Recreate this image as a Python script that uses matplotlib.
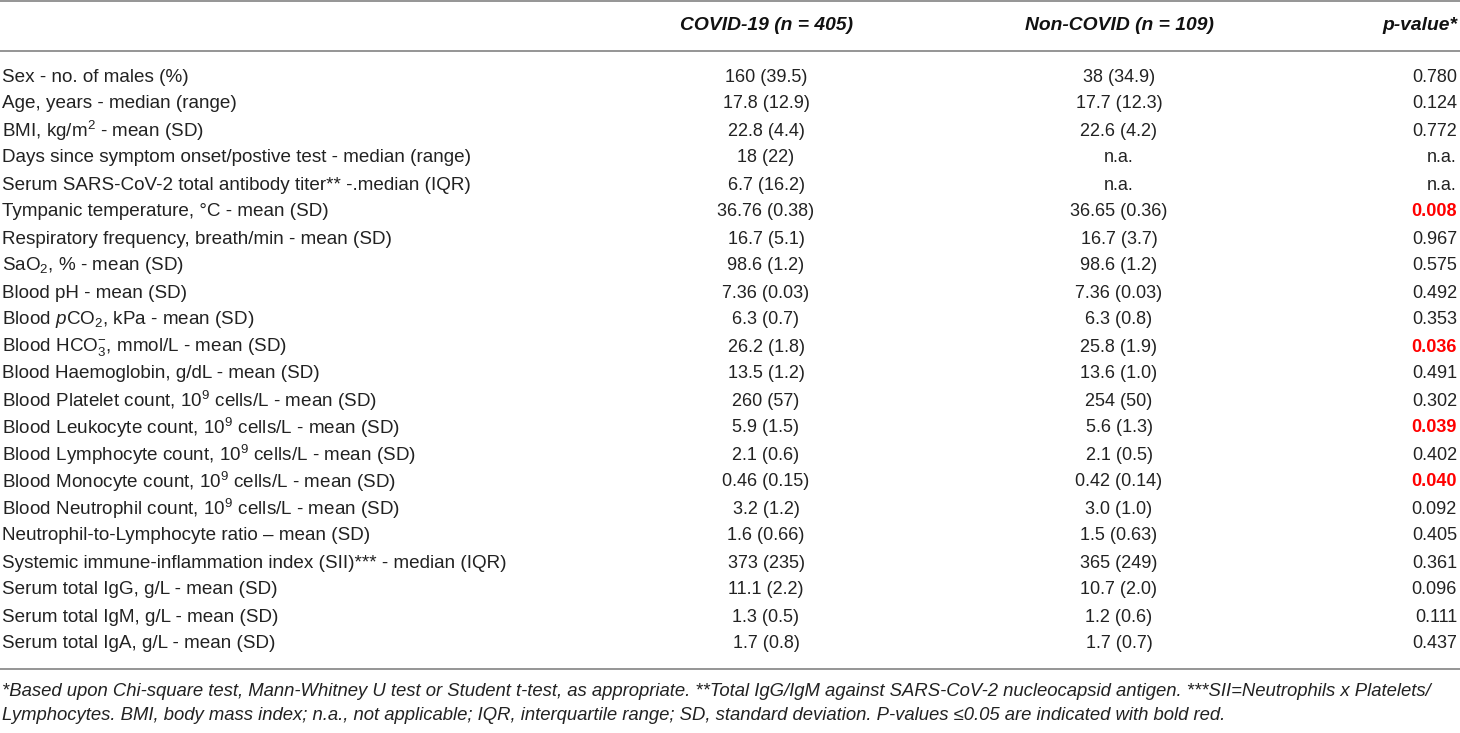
import matplotlib
matplotlib.use("Agg")
import matplotlib.pyplot as plt

plt.rcParams['font.family'] = ['Liberation Sans', 'DejaVu Sans']
plt.rcParams['mathtext.fontset'] = 'custom'
plt.rcParams['mathtext.rm'] = 'Liberation Sans'
plt.rcParams['mathtext.it'] = 'Liberation Sans:italic'
plt.rcParams['mathtext.bf'] = 'Liberation Sans:bold'

headers = ["COVID-19 (n = 405)", "Non-COVID (n = 109)", "p-value*"]

row_labels = [
    "Sex - no. of males (%)",
    "Age, years - median (range)",
    "BMI, kg/m$^{2}$ - mean (SD)",
    "Days since symptom onset/postive test - median (range)",
    "Serum SARS-CoV-2 total antibody titer** -.median (IQR)",
    "Tympanic temperature, °C - mean (SD)",
    "Respiratory frequency, breath/min - mean (SD)",
    "SaO$_{2}$, % - mean (SD)",
    "Blood pH - mean (SD)",
    "Blood $p$CO$_{2}$, kPa - mean (SD)",
    "Blood HCO$_{3}^{-}$, mmol/L - mean (SD)",
    "Blood Haemoglobin, g/dL - mean (SD)",
    "Blood Platelet count, 10$^{9}$ cells/L - mean (SD)",
    "Blood Leukocyte count, 10$^{9}$ cells/L - mean (SD)",
    "Blood Lymphocyte count, 10$^{9}$ cells/L - mean (SD)",
    "Blood Monocyte count, 10$^{9}$ cells/L - mean (SD)",
    "Blood Neutrophil count, 10$^{9}$ cells/L - mean (SD)",
    "Neutrophil-to-Lymphocyte ratio – mean (SD)",
    "Systemic immune-inflammation index (SII)*** - median (IQR)",
    "Serum total IgG, g/L - mean (SD)",
    "Serum total IgM, g/L - mean (SD)",
    "Serum total IgA, g/L - mean (SD)",
]

covid = ["160 (39.5)", "17.8 (12.9)", "22.8 (4.4)", "18 (22)", "6.7 (16.2)",
         "36.76 (0.38)", "16.7 (5.1)", "98.6 (1.2)", "7.36 (0.03)", "6.3 (0.7)",
         "26.2 (1.8)", "13.5 (1.2)", "260 (57)", "5.9 (1.5)", "2.1 (0.6)",
         "0.46 (0.15)", "3.2 (1.2)", "1.6 (0.66)", "373 (235)", "11.1 (2.2)",
         "1.3 (0.5)", "1.7 (0.8)"]

noncovid = ["38 (34.9)", "17.7 (12.3)", "22.6 (4.2)", "n.a.", "n.a.",
            "36.65 (0.36)", "16.7 (3.7)", "98.6 (1.2)", "7.36 (0.03)", "6.3 (0.8)",
            "25.8 (1.9)", "13.6 (1.0)", "254 (50)", "5.6 (1.3)", "2.1 (0.5)",
            "0.42 (0.14)", "3.0 (1.0)", "1.5 (0.63)", "365 (249)", "10.7 (2.0)",
            "1.2 (0.6)", "1.7 (0.7)"]

pvalues = ["0.780", "0.124", "0.772", "n.a.", "n.a.", "0.008", "0.967", "0.575",
           "0.492", "0.353", "0.036", "0.491", "0.302", "0.039", "0.402", "0.040",
           "0.092", "0.405", "0.361", "0.096", "0.111", "0.437"]

footnote = [
    "*Based upon Chi-square test, Mann-Whitney U test or Student t-test, as appropriate. **Total IgG/IgM against SARS-CoV-2 nucleocapsid antigen. ***SII=Neutrophils x Platelets/",
    "Lymphocytes. BMI, body mass index; n.a., not applicable; IQR, interquartile range; SD, standard deviation. P-values \u22640.05 are indicated with bold red.",
]

W, H = 1460, 733
fig = plt.figure(figsize=(W / 100, H / 100), dpi=100)
ax = fig.add_axes([0, 0, 1, 1])
ax.set_xlim(0, W)
ax.set_ylim(H, 0)
ax.axis('off')

fs_lab = 13.6
fs_num = 13.0
fs_head = 13.9
col_x = [766, 1119, 1457]
line_col = '#8c8c8c'
txt_col = '#222222'

# horizontal rules
for y in (1, 51, 669):
    ax.plot([0, W], [y, y], color=line_col, lw=1.3, solid_capstyle='butt')

# header
hkw = dict(va='center', fontsize=fs_head, fontweight='bold', fontstyle='italic', color='#111111')
ax.text(col_x[0], 26, headers[0], ha='center', **hkw)
ax.text(col_x[1], 26, headers[1], ha='center', **hkw)
ax.text(col_x[2], 26, headers[2], ha='right', **hkw)

y0, dy = 77, 27.0
for i, lab in enumerate(row_labels):
    y = y0 + i * dy
    ax.text(2, y, lab, ha='left', va='center', fontsize=fs_lab, color=txt_col)
    ax.text(col_x[0], y, covid[i], ha='center', va='center', fontsize=fs_num, color=txt_col)
    ax.text(col_x[1], y, noncovid[i], ha='center', va='center', fontsize=fs_num, color=txt_col)
    p = pvalues[i]
    sig = p != "n.a." and float(p) <= 0.05
    ax.text(col_x[2], y, p, ha='right', va='center', fontsize=fs_num,
            color='#ff0000' if sig else txt_col,
            fontweight='bold' if sig else 'normal')

for j, line in enumerate(footnote):
    ax.text(2, 691 + j * 25, line, ha='left', va='center', fontsize=13.3,
            fontstyle='italic', color=txt_col)

fig.savefig("out.png", dpi=100, facecolor='white')
